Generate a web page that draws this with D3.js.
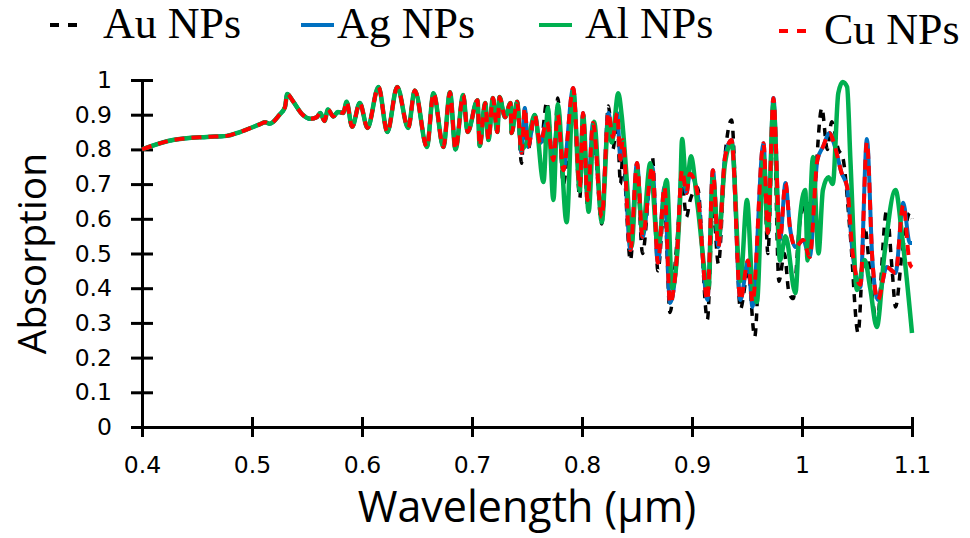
<!DOCTYPE html>
<html>
<head>
<meta charset="utf-8">
<script src="https://cdn.jsdelivr.net/npm/d3@7"></script>
<style>
  body { margin:0; background:#fff; }
  .tick text { font-family: "DejaVu Sans", sans-serif; font-size: 23.5px; fill:#000; }
  .legend text { font-family: "Liberation Serif", serif; font-size: 44px; fill:#000; }
  .axis-title { font-family: "Open Sans", sans-serif; fill:#000; }
</style>
</head>
<body>
<div id="chart"></div>
<script>
// values: [wavelength (um), absorption]
// all four series overlap below ~0.74 um
var common = [
  [0.400,0.800],[0.428,0.827],[0.459,0.836],[0.477,0.839],[0.489,0.850],[0.507,0.872],[0.512,0.878],
  [0.516,0.874],[0.525,0.900],[0.530,0.922],[0.532,0.960],[0.537,0.940],[0.546,0.900],[0.553,0.888],
  [0.559,0.893],[0.562,0.905],[0.566,0.882],[0.569,0.915],[0.574,0.895],[0.578,0.908],[0.583,0.905],
  [0.586,0.937],[0.591,0.865],[0.598,0.934],[0.605,0.862],[0.615,0.980],[0.623,0.850],[0.632,0.980],
  [0.642,0.862],[0.648,0.970],[0.659,0.807],[0.665,0.962],[0.674,0.807],[0.680,0.965],[0.685,0.800],
  [0.692,0.957],[0.696,0.850],[0.705,0.942],[0.707,0.810],[0.712,0.934],[0.715,0.827],[0.719,0.948],
  [0.723,0.850],[0.725,0.951],[0.730,0.893],[0.735,0.934],[0.736,0.847],[0.741,0.937]
];

var auTail = [
  [0.745,0.760],[0.748,0.919],[0.751,0.800],[0.757,0.899],[0.762,0.800],[0.768,0.937],[0.774,0.740],
  [0.778,0.948],[0.783,0.700],[0.792,0.960],[0.798,0.660],[0.801,0.880],[0.805,0.640],[0.810,0.860],
  [0.818,0.585],[0.824,0.925],[0.828,0.800],[0.832,0.880],[0.835,0.700],[0.837,0.780],[0.844,0.480],
  [0.850,0.740],[0.855,0.500],[0.864,0.778],[0.869,0.450],[0.875,0.640],[0.880,0.330],[0.886,0.520],
  [0.891,0.700],[0.895,0.605],[0.898,0.650],[0.905,0.690],[0.914,0.310],[0.919,0.640],[0.924,0.470],
  [0.930,0.780],[0.936,0.885],[0.944,0.340],[0.951,0.450],[0.957,0.260],[0.965,0.780],[0.969,0.500],
  [0.974,0.930],[0.979,0.420],[0.984,0.500],[0.988,0.390],[0.992,0.370],[0.998,0.588],[1.004,0.650],
  [1.009,0.620],[1.018,0.919],[1.023,0.800],[1.027,0.880],[1.033,0.800],[1.037,0.778],[1.044,0.550],
  [1.051,0.271],[1.057,0.576],[1.063,0.400],[1.068,0.300],[1.077,0.625],[1.082,0.450],[1.085,0.346],
  [1.091,0.500],[1.098,0.617],[1.100,0.600]
];

var agTail = [
  [0.745,0.790],[0.748,0.919],[0.751,0.807],[0.757,0.899],[0.762,0.818],[0.768,0.880],[0.774,0.769],
  [0.778,0.900],[0.783,0.740],[0.792,0.977],[0.798,0.692],[0.801,0.905],[0.805,0.654],[0.810,0.876],
  [0.818,0.605],[0.824,0.905],[0.828,0.836],[0.832,0.905],[0.835,0.770],[0.837,0.827],[0.844,0.510],
  [0.850,0.761],[0.855,0.548],[0.864,0.750],[0.869,0.473],[0.875,0.692],[0.880,0.357],[0.886,0.480],
  [0.891,0.740],[0.895,0.674],[0.898,0.730],[0.905,0.674],[0.914,0.366],[0.919,0.740],[0.924,0.519],
  [0.930,0.778],[0.936,0.827],[0.944,0.366],[0.951,0.480],[0.955,0.346],[0.965,0.818],[0.969,0.559],
  [0.974,0.948],[0.980,0.540],[0.985,0.703],[0.989,0.576],[0.994,0.519],[1.001,0.539],[1.007,0.490],
  [1.014,0.770],[1.019,0.807],[1.025,0.847],[1.030,0.807],[1.036,0.732],[1.041,0.692],[1.046,0.501],
  [1.053,0.403],[1.059,0.830],[1.064,0.481],[1.069,0.366],[1.077,0.461],[1.085,0.444],[1.092,0.646],
  [1.098,0.530],[1.100,0.530]
];

var alTail = [
  [0.745,0.800],[0.751,0.830],[0.757,0.899],[0.765,0.706],[0.769,0.920],[0.774,0.654],[0.778,0.930],
  [0.786,0.590],[0.792,0.970],[0.798,0.680],[0.801,0.900],[0.806,0.620],[0.811,0.880],[0.818,0.590],
  [0.824,0.880],[0.827,0.820],[0.833,0.962],[0.836,0.900],[0.841,0.700],[0.845,0.520],[0.850,0.740],
  [0.855,0.560],[0.862,0.760],[0.869,0.520],[0.877,0.712],[0.882,0.400],[0.889,0.640],[0.891,0.830],
  [0.895,0.690],[0.899,0.780],[0.905,0.640],[0.915,0.400],[0.919,0.720],[0.924,0.540],[0.930,0.760],
  [0.936,0.820],[0.944,0.420],[0.950,0.654],[0.955,0.400],[0.959,0.360],[0.965,0.780],[0.969,0.560],
  [0.974,0.930],[0.980,0.480],[0.985,0.550],[0.994,0.386],[0.998,0.597],[1.003,0.683],[1.005,0.480],
  [1.010,0.778],[1.015,0.500],[1.019,0.683],[1.024,0.720],[1.028,0.700],[1.033,0.962],[1.037,0.994],
  [1.041,0.980],[1.044,0.770],[1.050,0.395],[1.057,0.481],[1.062,0.400],[1.068,0.288],[1.075,0.500],
  [1.085,0.683],[1.091,0.550],[1.100,0.271]
];

var cuTail = [
  [0.745,0.790],[0.748,0.919],[0.751,0.807],[0.757,0.899],[0.762,0.818],[0.768,0.880],[0.774,0.769],
  [0.778,0.900],[0.783,0.740],[0.792,0.977],[0.798,0.692],[0.801,0.905],[0.805,0.654],[0.810,0.876],
  [0.818,0.605],[0.824,0.905],[0.828,0.836],[0.832,0.905],[0.835,0.770],[0.837,0.827],[0.844,0.510],
  [0.850,0.761],[0.855,0.548],[0.864,0.750],[0.869,0.473],[0.875,0.692],[0.880,0.357],[0.886,0.480],
  [0.891,0.740],[0.895,0.674],[0.898,0.730],[0.905,0.674],[0.914,0.366],[0.919,0.740],[0.924,0.519],
  [0.930,0.778],[0.936,0.827],[0.944,0.366],[0.951,0.480],[0.955,0.360],[0.965,0.818],[0.969,0.559],
  [0.974,0.948],[0.980,0.540],[0.985,0.703],[0.989,0.576],[0.994,0.519],[1.001,0.539],[1.007,0.490],
  [1.014,0.770],[1.019,0.807],[1.025,0.847],[1.030,0.807],[1.036,0.732],[1.041,0.692],[1.046,0.501],
  [1.053,0.410],[1.059,0.820],[1.064,0.481],[1.069,0.366],[1.077,0.461],[1.085,0.444],[1.092,0.640],
  [1.098,0.470],[1.100,0.460]
];

var seriesNames = ["Au NPs", "Ag NPs", "Al NPs", "Cu NPs"];
var xTicks = [0.4, 0.5, 0.6, 0.7, 0.8, 0.9, 1, 1.1];
var xTickLabels = ["0.4", "0.5", "0.6", "0.7", "0.8", "0.9", "1", "1.1"];
var yTicks = [0, 0.1, 0.2, 0.3, 0.4, 0.5, 0.6, 0.7, 0.8, 0.9, 1];
var yTickLabels = ["0", "0.1", "0.2", "0.3", "0.4", "0.5", "0.6", "0.7", "0.8", "0.9", "1"];

var viewboxwidth = 970, viewboxheight = 538;
var plot = {left:142, right:912, top:80, bottom:427};

var svg = d3.select("#chart")
    .append("svg")
    .attr("width", viewboxwidth)
    .attr("height", viewboxheight);

var x = d3.scaleLinear().domain([0.4, 1.1]).range([plot.left, plot.right]);
var y = d3.scaleLinear().domain([0, 1]).range([plot.bottom, plot.top]);

// axes, ticks cross the axis line
var xAxis = svg.append("g")
    .attr("transform", "translate(0," + plot.bottom + ")")
    .call(d3.axisBottom(x).tickValues(xTicks).tickSizeOuter(0)
        .tickFormat(function(d, i){ return xTickLabels[i]; }));
xAxis.selectAll(".tick line").attr("y1", -10).attr("y2", 10).attr("stroke-width", 3);
xAxis.selectAll(".tick text").attr("y", 29);

var yAxis = svg.append("g")
    .attr("transform", "translate(" + plot.left + ",0)")
    .call(d3.axisLeft(y).tickValues(yTicks).tickSizeOuter(0)
        .tickFormat(function(d, i){ return yTickLabels[i]; }));
yAxis.selectAll(".tick line").attr("x1", -11).attr("x2", 11).attr("stroke-width", 3);
yAxis.selectAll(".tick text").attr("x", -30);

svg.selectAll(".domain").attr("stroke-width", 3).attr("stroke", "#000");
svg.selectAll(".tick line").attr("stroke", "#000");

svg.append("text")
    .attr("class", "axis-title")
    .attr("x", 527)
    .attr("y", 522)
    .attr("text-anchor", "middle")
    .style("font-size", "43px")
    .text("Wavelength (\u00b5m)");

svg.append("text")
    .attr("class", "axis-title")
    .attr("transform", "translate(46," + (plot.top + plot.bottom) / 2 + ") rotate(-90)")
    .attr("text-anchor", "middle")
    .style("font-size", "39px")
    .text("Absorption");

// lines
var line = d3.line()
    .x(function(d){ return x(d[0]); })
    .y(function(d){ return y(d[1]); })
    .curve(d3.curveMonotoneX);

var series = [
  {name: seriesNames[0], data: common.concat(auTail), color: "#000000", width: 3.5, dash: "8,7"},
  {name: seriesNames[1], data: common.concat(agTail), color: "#0070C0", width: 4, dash: null},
  {name: seriesNames[2], data: common.concat(alTail), color: "#00B050", width: 4.5, dash: null},
  {name: seriesNames[3], data: common.concat(cuTail), color: "#FF0000", width: 4, dash: "10,7"}
];

svg.append("g")
    .selectAll("path")
    .data(series)
    .enter()
    .append("path")
    .attr("d", function(d){ return line(d.data); })
    .attr("fill", "none")
    .attr("stroke", function(d){ return d.color; })
    .attr("stroke-width", function(d){ return d.width; })
    .attr("stroke-dasharray", function(d){ return d.dash; });

// legend
var legendPos = [
  {lx:50, tx:103, ty:38},
  {lx:301, tx:337, ty:38},
  {lx:539, tx:585, ty:38},
  {lx:779, tx:824, ty:44}
];

var legend = svg.append("g").attr("class", "legend");
series.forEach(function(s, i){
    var p = legendPos[i];
    legend.append("line")
        .attr("x1", p.lx).attr("x2", p.lx + 33)
        .attr("y1", p.ty - 13).attr("y2", p.ty - 13)
        .attr("stroke", s.color)
        .attr("stroke-width", 4)
        .attr("stroke-dasharray", s.dash ? "9,9" : null);
    legend.append("text")
        .attr("x", p.tx)
        .attr("y", p.ty)
        .text(s.name);
});
</script>
</body>
</html>
